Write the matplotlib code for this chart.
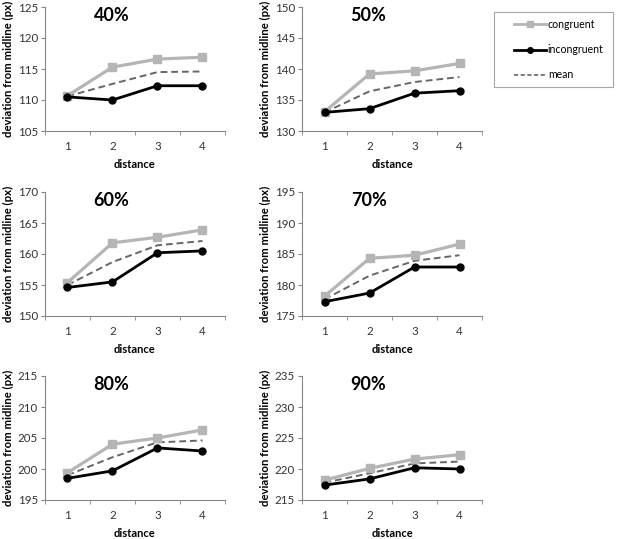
import matplotlib
matplotlib.use("Agg")
import matplotlib.pyplot as plt
from matplotlib.ticker import MultipleLocator, FixedLocator
from matplotlib.patches import Rectangle

plt.rcParams['font.family'] = ['Lato', 'DejaVu Sans']

distance = [1, 2, 3, 4]
panel_titles = ["40%", "50%", "60%", "70%", "80%", "90%"]
ylims = [(105, 125), (130, 150), (150, 170), (175, 195), (195, 215), (215, 235)]

congruent = [
    [110.7, 115.3, 116.6, 116.9],
    [133.1, 139.2, 139.7, 140.9],
    [155.4, 161.8, 162.7, 163.9],
    [178.2, 184.3, 184.8, 186.6],
    [199.4, 204.0, 205.0, 206.3],
    [218.2, 220.1, 221.6, 222.3],
]
incongruent = [
    [110.5, 110.0, 112.3, 112.3],
    [133.0, 133.6, 136.1, 136.5],
    [154.6, 155.5, 160.2, 160.5],
    [177.3, 178.7, 182.9, 182.9],
    [198.5, 199.7, 203.4, 202.9],
    [217.4, 218.4, 220.2, 220.0],
]
mean = [
    [110.6, 112.6, 114.5, 114.6],
    [133.0, 136.4, 137.9, 138.7],
    [155.0, 158.7, 161.4, 162.1],
    [177.7, 181.5, 183.9, 184.8],
    [199.0, 201.9, 204.3, 204.6],
    [217.8, 219.3, 220.9, 221.2],
]

W, H = 617, 539
fig = plt.figure(figsize=(W / 100, H / 100), dpi=100)

lefts = [45, 302]
tops = [7, 192, 376]
aw, ah = 180, 124
spine_col = "#868686"

for i in range(6):
    r, c = divmod(i, 2)
    x0 = lefts[c]
    y0 = tops[r]
    ax = fig.add_axes([x0 / W, 1 - (y0 + ah) / H, aw / W, ah / H])
    ax.plot(distance, congruent[i], color="#b5b5b5", lw=2.3, marker="s", ms=5.5,
            label="congruent", zorder=3)
    ax.plot(distance, incongruent[i], color="black", lw=2.0, marker="o", ms=5,
            label="incongruent", zorder=4)
    ax.plot(distance, mean[i], color="#666666", lw=1.4, ls=(0, (3.5, 2)),
            label="mean", zorder=2)
    ax.set_xlim(0.5, 4.5)
    ax.set_ylim(*ylims[i])
    ax.yaxis.set_major_locator(MultipleLocator(5))
    ax.set_xticks(distance)
    ax.xaxis.set_minor_locator(FixedLocator([0.5, 1.5, 2.5, 3.5, 4.5]))
    ax.tick_params(axis="x", which="major", length=0, labelsize=8.3, pad=7, colors="#333333")
    ax.tick_params(axis="x", which="minor", length=3, color=spine_col, direction="out")
    ax.tick_params(axis="y", which="major", length=3, color=spine_col, labelsize=8.3,
                   pad=2, labelcolor="#333333")
    for s in ["top", "right"]:
        ax.spines[s].set_visible(False)
    for s in ["left", "bottom"]:
        ax.spines[s].set_color(spine_col)
        ax.spines[s].set_linewidth(0.8)
    ax.set_xlabel("distance", fontsize=8, fontweight="bold", labelpad=5)
    ax.set_ylabel("deviation from midline (px)", fontsize=8.2, fontweight="bold", labelpad=3)
    ax.text(0.37, 0.935, panel_titles[i], transform=ax.transAxes, ha="center", va="center",
            fontsize=13, fontweight="bold")

# legend frame drawn explicitly
fig.patches.append(Rectangle((494 / W, 1 - 87 / H), (613 - 494) / W, (87 - 12) / H,
                             transform=fig.transFigure, fill=False, edgecolor="#a6a6a6",
                             linewidth=0.8))

leg_handles = [
    plt.Line2D([], [], color="#b5b5b5", lw=2.0, marker="s", ms=4),
    plt.Line2D([], [], color="black", lw=2.0, marker="o", ms=4),
    plt.Line2D([], [], color="#666666", lw=1.2, ls=(0, (2.5, 1.5))),
]
leg = fig.legend(leg_handles, ["congruent", "incongruent", "mean"], loc="upper left",
                 bbox_to_anchor=(514 / W, 1 - 19 / H), frameon=False,
                 fontsize=7.6, handlelength=3.0, handletextpad=0.2, labelspacing=1.35,
                 borderpad=0, borderaxespad=0)

fig.savefig("out.png", dpi=100)
